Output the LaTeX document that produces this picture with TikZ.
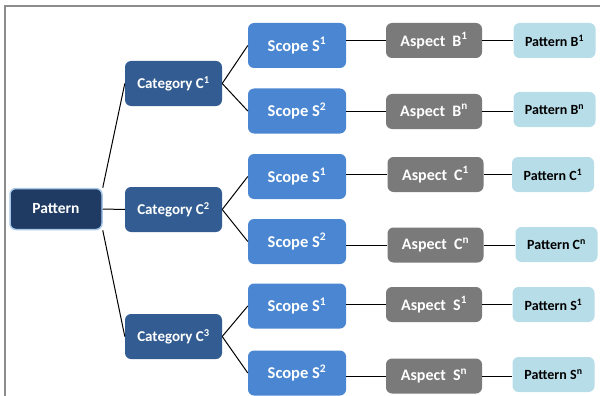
\documentclass[tikz,border=0pt]{standalone}
\usepackage{fontspec}
\setmainfont{Carlito}
\definecolor{rootc}{HTML}{1F3B63}
\definecolor{rootedge}{HTML}{A9C8E8}
\definecolor{catc}{HTML}{335D92}
\definecolor{scopec}{HTML}{4A86D1}
\definecolor{aspc}{HTML}{7A7A7A}
\definecolor{leafc}{HTML}{B7DDE8}
\definecolor{framec}{HTML}{8C8C8C}
\tikzset{
  box/.style={rounded corners=6pt, inner sep=0pt, align=center,
    font=\bfseries\fontsize{15}{17}\selectfont, text=white},
  rootbox/.style={box, fill=rootc, draw=rootedge, line width=1.5pt, minimum width=92pt, minimum height=41pt,
    font=\bfseries\fontsize{15.5}{17}\selectfont},
  catbox/.style={box, fill=catc, minimum width=97pt, minimum height=45pt},
  scopebox/.style={box, fill=scopec, minimum width=98pt, minimum height=45pt,
    font=\bfseries\fontsize{16.5}{18}\selectfont},
  aspbox/.style={box, fill=aspc, minimum width=96pt, minimum height=35pt,
    font=\bfseries\fontsize{16}{18}\selectfont},
  leafbox/.style={box, fill=leafc, text=black, minimum width=82pt, minimum height=35pt,
    font=\bfseries\fontsize{14}{16}\selectfont},
  conn/.style={draw=black, line width=1pt},
}
\newcommand{\sps}[1]{\textsuperscript{#1}}
\begin{document}
\begin{tikzpicture}[x=1pt,y=-1pt]
\useasboundingbox (0,0) rectangle (600,396);
\draw[framec, line width=2pt] (5,397) -- (5,6) -- (601,6);

\node[rootbox] (P) at (56,209) {Pattern};
\node[catbox] (C1) at (173.5,83.5) {Category C\sps{1}};
\node[catbox] (C2) at (173.5,209.5) {Category C\sps{2}};
\node[catbox] (C3) at (173.5,336.5) {Category C\sps{3}};

\node[scopebox] (SB1) at (297,45.5) {Scope S\sps{1}};
\node[scopebox] (SB2) at (297,111) {Scope S\sps{2}};
\node[scopebox] (SC1) at (297,176.5) {Scope S\sps{1}};
\node[scopebox] (SC2) at (297,241.5) {Scope S\sps{2}};
\node[scopebox] (SS1) at (297,306) {Scope S\sps{1}};
\node[scopebox] (SS2) at (297,373) {Scope S\sps{2}};

\node[aspbox] (AB1) at (434,40.5) {Aspect\hspace{0.45em}B\sps{1}};
\node[aspbox] (ABn) at (434,111.5) {Aspect\hspace{0.45em}B\sps{n}};
\node[aspbox] (AC1) at (435.5,174.5) {Aspect\hspace{0.45em}C\sps{1}};
\node[aspbox] (ACn) at (435.5,245) {Aspect\hspace{0.45em}C\sps{n}};
\node[aspbox] (AS1) at (434,304.5) {Aspect\hspace{0.45em}S\sps{1}};
\node[aspbox] (ASn) at (434,376) {Aspect\hspace{0.45em}S\sps{n}};

\node[leafbox] (LB1) at (554.5,40.5) {Pattern B\sps{1}};
\node[leafbox] (LBn) at (554.5,109.5) {Pattern B\sps{n}};
\node[leafbox] (LC1) at (553,174.5) {Pattern C\sps{1}};
\node[leafbox] (LCn) at (556.5,244.5) {Pattern C\sps{n}};
\node[leafbox] (LS1) at (553.5,304.5) {Pattern S\sps{1}};
\node[leafbox] (LSn) at (553.5,374.5) {Pattern S\sps{n}};

\draw[conn] (P.north east) -- (C1.west);
\draw[conn] (P.east) -- (C2.west);
\draw[conn] (P.south east) -- (C3.west);

\foreach \c/\a/\b in {C1/SB1/SB2, C2/SC1/SC2, C3/SS1/SS2}{
  \draw[conn] (\c.east) -- (\a.west);
  \draw[conn] (\c.east) -- (\b.west);
}
\foreach \s/\a/\l in {SB1/AB1/LB1, SB2/ABn/LBn, SC1/AC1/LC1, SC2/ACn/LCn, SS1/AS1/LS1, SS2/ASn/LSn}{
  \draw[conn] (\a.west -| \s.east) -- (\a.west);
  \draw[conn] (\a.east) -- (\a.east -| \l.west);
}
\end{tikzpicture}
\end{document}
